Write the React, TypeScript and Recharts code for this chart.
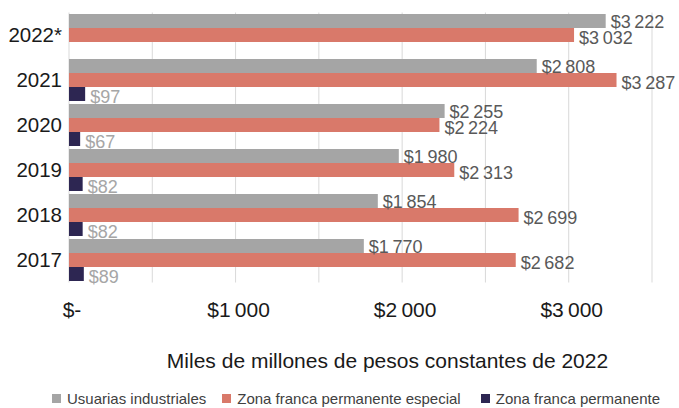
import React from 'react'
import { BarChart, Bar, XAxis, YAxis, CartesianGrid, LabelList, Legend } from 'recharts'

const years = ['2022*', '2021', '2020', '2019', '2018', '2017']
const usuarias = [3222, 2808, 2255, 1980, 1854, 1770]
const especial = [3032, 3287, 2224, 2313, 2699, 2682]
const permanente: (number | null)[] = [null, 97, 67, 82, 82, 89]
const xTicks = [0, 500, 1000, 1500, 2000, 2500, 3000, 3500]

const SERIES = [
  { key: 'usuarias', name: 'Usuarias industriales', color: '#a5a5a5', label: '#595959' },
  { key: 'especial', name: 'Zona franca permanente especial', color: '#d9796a', label: '#595959' },
  { key: 'permanente', name: 'Zona franca permanente', color: '#2d2652', label: '#a6a6a6' },
]

const data = years.map((year, i) => ({
  year,
  usuarias: usuarias[i],
  especial: especial[i],
  permanente: permanente[i],
}))

const FONT = '"Liberation Sans", Arial, sans-serif'

const money = (v: number) => '$' + String(v).replace(/\B(?=(\d{3})+(?!\d))/g, '\u2009')

function LegendContent() {
  return (
    <div
      style={{
        display: 'flex',
        flexWrap: 'nowrap',
        whiteSpace: 'nowrap',
        paddingLeft: 52,
        fontFamily: FONT,
        fontSize: 15,
        color: '#404040',
      }}
    >
      {SERIES.map((s, i) => (
        <div
          key={s.key}
          style={{ display: 'flex', alignItems: 'center', flexShrink: 0, marginRight: i === 0 ? 16 : 20 }}
        >
          <span style={{ width: 9, height: 9, background: s.color, marginRight: 6, display: 'inline-block' }} />
          <span>{s.name}</span>
        </div>
      ))}
    </div>
  )
}

export default function App() {
  return (
    <div style={{ position: 'absolute', left: 0, top: 0, background: '#fff' }}>
      <BarChart
        width={679}
        height={408}
        data={data}
        layout="vertical"
        margin={{ top: 12.5, right: 27, bottom: 0, left: 0 }}
        barGap={0}
        barCategoryGap={1.5}
      >
        <CartesianGrid horizontal={false} stroke="#d9d9d9" />
        <XAxis
          type="number"
          domain={[0, 3500]}
          ticks={xTicks}
          height={125.5}
          axisLine={false}
          tickLine={false}
          tickSize={0}
          tickMargin={20}
          interval={0}
          tick={{ fontSize: 21, fill: '#1a1a1a', fontFamily: FONT, dx: 3 }}
          tickFormatter={(v: number) => (v === 0 ? '$-' : v % 1000 === 0 ? money(v) : '')}
          label={{
            value: 'Miles de millones de pesos constantes de 2022',
            position: 'insideTop',
            offset: 71,
            dx: 27,
            fontSize: 21,
            fill: '#1a1a1a',
            fontFamily: FONT,
          }}
        />
        <YAxis
          type="category"
          dataKey="year"
          width={69}
          axisLine={false}
          tickLine={false}
          tickSize={0}
          tickMargin={7}
          tick={{ fontSize: 20.5, fill: '#1a1a1a', fontFamily: FONT }}
        />
        <Legend
          layout="horizontal"
          verticalAlign="middle"
          align="center"
          wrapperStyle={{ top: 390, left: 0, width: 679 }}
          content={<LegendContent />}
        />
        {SERIES.map((s, i) => (
          <Bar key={s.key} dataKey={s.key} name={s.name} fill={s.color} isAnimationActive={false}>
            <LabelList
              dataKey={s.key}
              position="right"
              offset={5}
              formatter={(v: any) => (v == null ? '' : money(v))}
              style={{ fontSize: 18, fill: s.label, fontFamily: FONT }}
              dy={i === 0 ? 1 : 3}
            />
          </Bar>
        ))}
      </BarChart>
    </div>
  )
}
